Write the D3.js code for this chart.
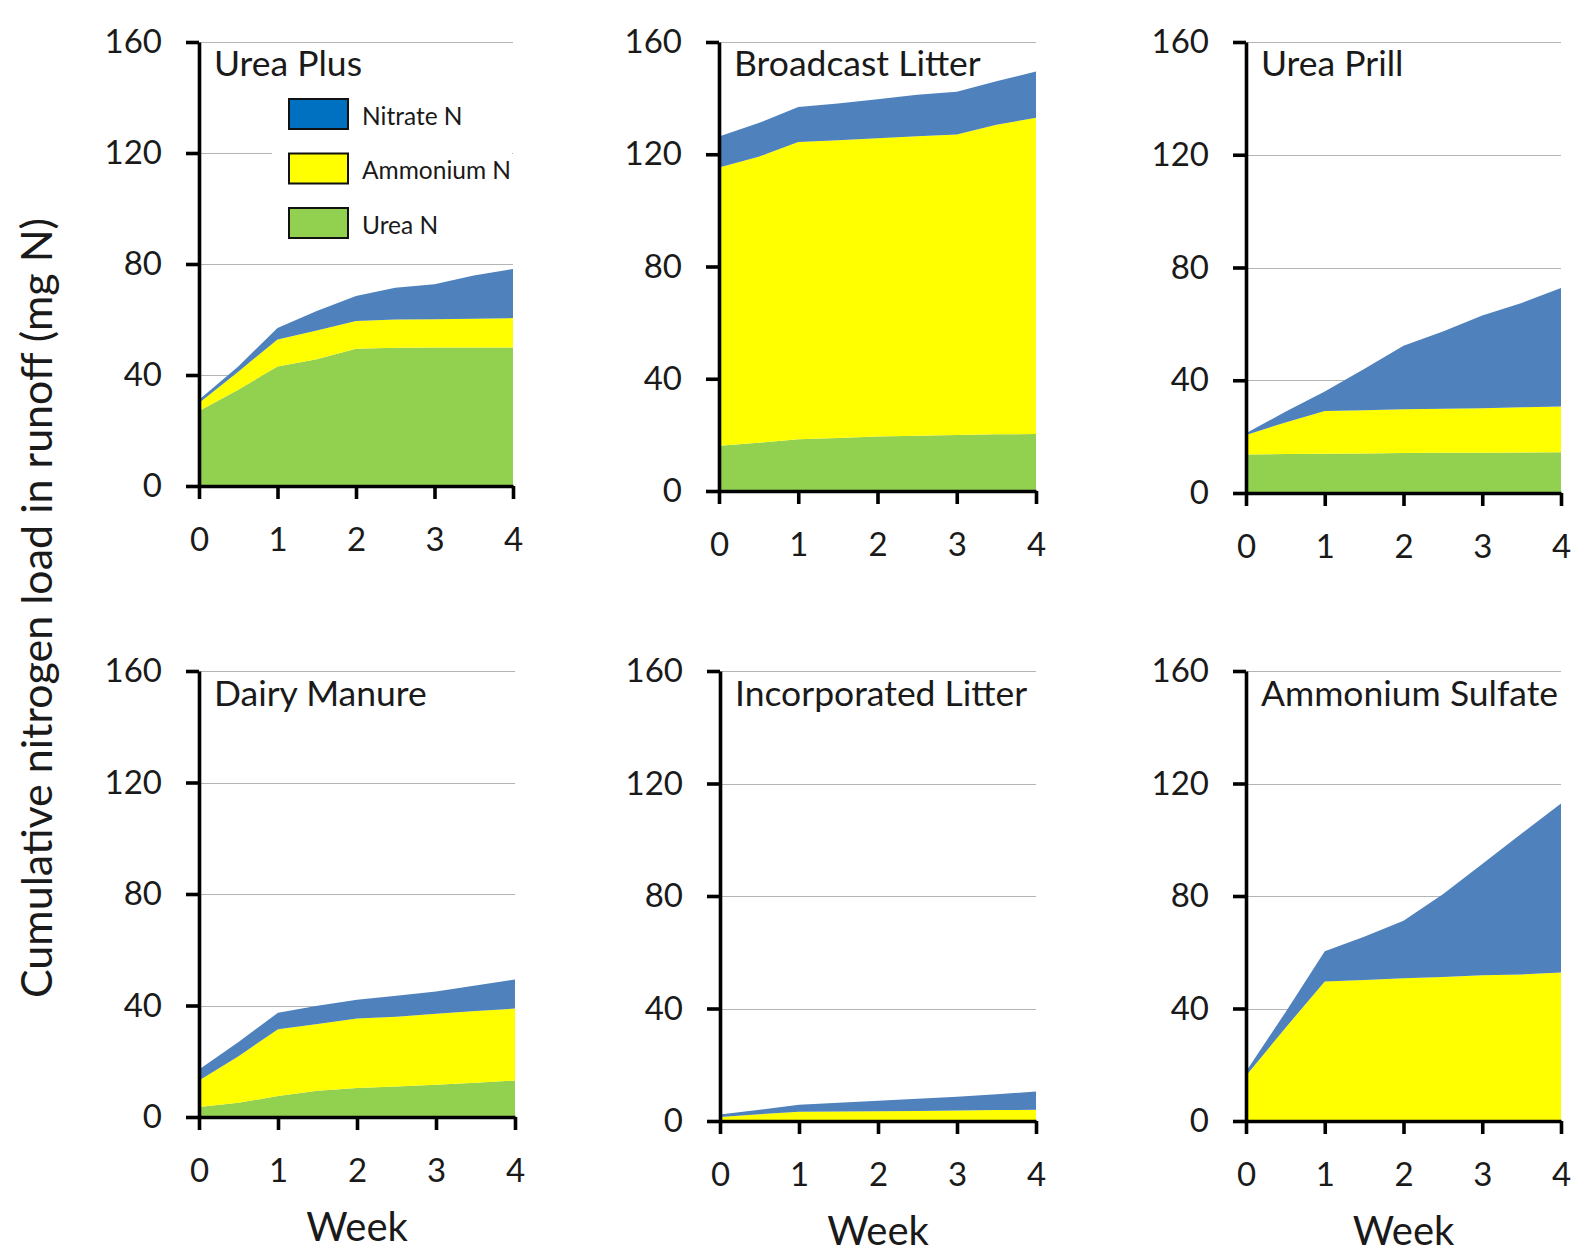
<!DOCTYPE html>
<html>
<head>
<meta charset="utf-8">
<script src="https://cdn.jsdelivr.net/npm/d3@7"></script>
<style>
  body { margin: 0; background: #fff; }
  svg { display: block; font-family: Lato, "Open Sans", sans-serif; }
  .grid line { stroke: #b4b4b4; stroke-width: 1.2px; }
  .axis path, .axis line { stroke: #000; stroke-width: 3.6px; }
  .axis text { font-size: 33px; fill: #1a1a1a; font-family: Lato, sans-serif; }
</style>
</head>
<body>
<div id="chart-area"></div>
<script>

var width = 1575,
    height = 1255;

// Data, one row per panel
var weeks = [0, 0.5, 1, 1.5, 2, 2.5, 3, 3.5, 4];
var panelNames = ["Urea Plus", "Broadcast Litter", "Urea Prill",
                  "Dairy Manure", "Incorporated Litter", "Ammonium Sulfate"];
var seriesNames = ["Nitrate N", "Ammonium N", "Urea N"];
var yTicks = [0, 40, 80, 120, 160];
var xTicks = [0, 1, 2, 3, 4];

var ureaN = [
    [27.0, 34.7, 43.1, 45.7, 49.5, 49.8, 49.9, 49.9, 49.9],
    [16.1, 17.2, 18.4, 18.9, 19.4, 19.7, 20.0, 20.2, 20.3],
    [13.7, 13.8, 13.9, 14.0, 14.2, 14.3, 14.3, 14.4, 14.5],
    [3.6, 5.1, 7.5, 9.4, 10.4, 10.9, 11.6, 12.3, 13.1],
    [0, 0, 0, 0, 0, 0, 0, 0, 0],
    [0, 0, 0, 0, 0, 0, 0, 0, 0]
];
var ammoniumN = [
    [2.9, 6.5, 9.7, 10.3, 10.0, 10.2, 10.2, 10.4, 10.6],
    [99.2, 101.9, 106.0, 106.1, 106.3, 106.7, 107.0, 110.3, 112.7],
    [6.9, 11.2, 15.2, 15.4, 15.5, 15.6, 15.8, 16.0, 16.2],
    [9.5, 16.7, 24.0, 24.0, 24.9, 25.1, 25.4, 25.7, 25.8],
    [1.4, 2.4, 3.3, 3.4, 3.5, 3.6, 3.7, 3.9, 4.0],
    [16.1, 33.1, 49.6, 50.1, 50.8, 51.2, 51.8, 52.1, 52.8]
];
var nitrateN = [
    [1.2, 1.9, 4.1, 7.1, 9.0, 11.4, 12.6, 15.6, 17.7],
    [11.0, 12.0, 12.4, 13.1, 13.9, 14.8, 15.3, 15.5, 16.5],
    [0.6, 3.8, 6.9, 14.6, 22.5, 27.4, 32.9, 37.0, 42.0],
    [3.9, 5.1, 5.9, 6.5, 6.8, 7.5, 8.0, 9.2, 10.4],
    [0.9, 1.6, 2.5, 3.1, 3.7, 4.3, 4.9, 5.6, 6.5],
    [1.5, 5.5, 10.8, 15.4, 20.4, 29.4, 39.6, 50.1, 60.1]
];

var areaColor = { urea: "#92d050", ammonium: "#ffff00", nitrate: "#4f81bd" };
var legendColor = ["#0070c0", "#ffff00", "#92d050"];

// panel boxes (pixel layout)
var panels = [
    { x0: 199, x1: 513, y0: 42, y1: 486 },
    { x0: 719, x1: 1036, y0: 42, y1: 491 },
    { x0: 1246, x1: 1561, y0: 42, y1: 493 },
    { x0: 199, x1: 515, y0: 671, y1: 1117 },
    { x0: 720, x1: 1036, y0: 671, y1: 1121 },
    { x0: 1246, x1: 1561, y0: 671, y1: 1121 }
];

var svg = d3.select("#chart-area").append("svg")
    .attr("width", width)
    .attr("height", height);

var stack = d3.stack().keys(["urea", "ammonium", "nitrate"]);

panels.forEach(function(p, i) {
    var x = d3.scaleLinear().domain([0, 4]).range([p.x0, p.x1]);
    var y = d3.scaleLinear().domain([0, 160]).range([p.y1, p.y0]);

    var rows = weeks.map(function(w, j) {
        return { week: w, urea: ureaN[i][j], ammonium: ammoniumN[i][j], nitrate: nitrateN[i][j] };
    });
    var layers = stack(rows);

    var g = svg.append("g");

    // gridlines
    g.append("g").attr("class", "grid")
        .selectAll("line")
        .data(yTicks.slice(1))
        .enter().append("line")
        .attr("x1", p.x0).attr("x2", p.x1)
        .attr("y1", function(d) { return Math.round(y(d)) + 0.5; })
        .attr("y2", function(d) { return Math.round(y(d)) + 0.5; });

    // stacked areas
    var area = d3.area()
        .x(function(d) { return x(d.data.week); })
        .y0(function(d) { return y(d[0]); })
        .y1(function(d) { return y(d[1]); });

    g.selectAll(".layer")
        .data(layers)
        .enter().append("path")
        .attr("class", "layer")
        .attr("fill", function(d) { return areaColor[d.key]; })
        .attr("d", area);

    // legend lives in the first panel
    if (i === 0) {
        var lg = g.append("g");
        lg.append("rect")
            .attr("x", 272).attr("y", 88)
            .attr("width", 240).attr("height", 160)
            .attr("fill", "#fff");
        seriesNames.forEach(function(name, k) {
            var top = 99 + k * 54.5;
            lg.append("rect")
                .attr("x", 289).attr("y", top)
                .attr("width", 59).attr("height", 30)
                .attr("fill", legendColor[k])
                .attr("stroke", "#111").attr("stroke-width", 2);
            lg.append("text")
                .attr("x", 362).attr("y", top + 17)
                .attr("dy", "0.35em")
                .attr("font-size", 24.5)
                .attr("fill", "#1a1a1a")
                .text(name);
        });
    }

    // axes
    g.append("g").attr("class", "axis")
        .attr("transform", "translate(0," + p.y1 + ")")
        .call(d3.axisBottom(x).tickValues(xTicks).tickSize(13).tickSizeOuter(0).tickPadding(29)
            .tickFormat(d3.format("d")));

    g.append("g").attr("class", "axis")
        .attr("transform", "translate(" + p.x0 + ",0)")
        .call(d3.axisLeft(y).tickValues(yTicks).tickSize(13).tickSizeOuter(0).tickPadding(24)
            .tickFormat(d3.format("d")));

    // panel title
    g.append("text")
        .attr("x", p.x0 + 15)
        .attr("y", p.y0 + (i < 3 ? 34 : 35))
        .attr("font-size", 35.5)
        .attr("fill", "#1a1a1a")
        .text(panelNames[i]);

    if (i >= 3) {
        g.append("text")
            .attr("x", (p.x0 + p.x1) / 2)
            .attr("y", p.y1 + 124)
            .attr("text-anchor", "middle")
            .attr("font-size", 40)
            .attr("fill", "#1a1a1a")
            .text("Week");
    }
});

// shared y title
svg.append("text")
    .attr("transform", "translate(52,608) rotate(-90)")
    .attr("text-anchor", "middle")
    .attr("font-size", 43)
    .attr("fill", "#1a1a1a")
    .text("Cumulative nitrogen load in runoff (mg N)");

</script>
</body>
</html>
